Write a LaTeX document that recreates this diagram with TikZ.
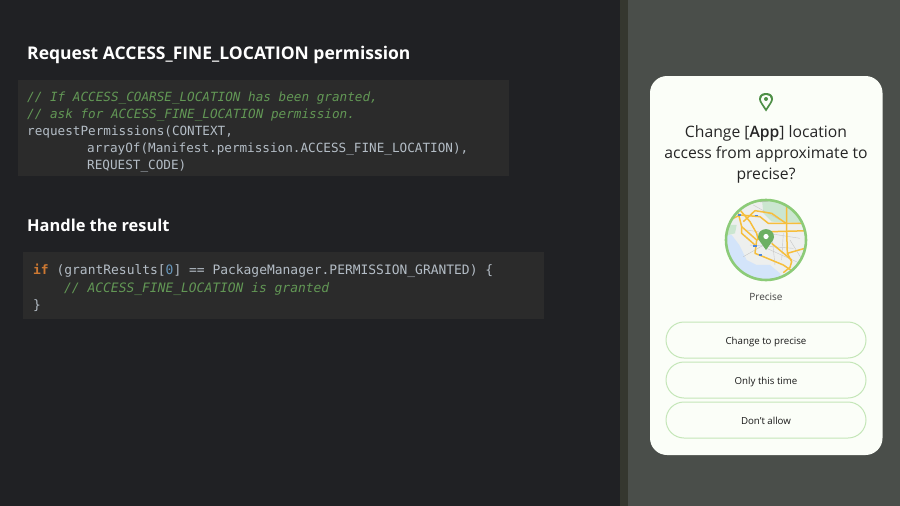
\documentclass[tikz,border=0pt]{standalone}
\usepackage{fontspec}
\setmainfont{Open Sans}
\setmonofont{DejaVu Sans Mono}
\usetikzlibrary{positioning}

\definecolor{slatebg}{HTML}{202124}
\definecolor{stripbg}{HTML}{35372F}
\definecolor{panelbg}{HTML}{4A4E4A}
\definecolor{codebg}{HTML}{2B2B2B}
\definecolor{codefg}{HTML}{B4BDC6}
\definecolor{cmtgreen}{HTML}{629755}
\definecolor{kwdorange}{HTML}{CC7832}
\definecolor{numblue}{HTML}{6897BB}
\definecolor{cardbg}{HTML}{FBFEF8}
\definecolor{btnline}{HTML}{C4E6B8}
\definecolor{pingreen}{HTML}{4E8F47}
\definecolor{mappin}{HTML}{6DB063}
\definecolor{ringgreen}{HTML}{8CCB78}
\definecolor{roadyellow}{HTML}{F6BE3C}
\definecolor{mapland}{HTML}{EDEFEE}
\definecolor{mapgreen}{HTML}{CBE6D0}
\definecolor{mapwater}{HTML}{D3E4FA}
\definecolor{mapblue}{HTML}{4F86D8}

\tikzset{
  heading/.style={anchor=base west,text=white,inner sep=0pt},
  codeline/.style={anchor=base west,text=codefg,inner sep=0pt},
  dialogline/.style={anchor=base,text=black!85,font=\fontsize{15.7}{18}\selectfont,inner sep=0pt},
  choice/.style={draw=btnline,line width=1pt,rounded corners=18pt,fill=cardbg,minimum width=200pt,minimum height=36pt,
    text=black!90,font=\fontsize{9.7}{11}\selectfont,inner sep=0pt,text height=9.5pt,text depth=1.5pt},
  road/.style={roadyellow,line width=1.5pt,line join=round},
  street/.style={black!22,line width=.4pt},
  shield/.style={mapblue,line width=1.6pt}
}
\newcommand{\cmt}[1]{\textcolor{cmtgreen}{\itshape #1}}

\begin{document}
\begin{tikzpicture}[x=1pt,y=-1pt]
  \useasboundingbox (0,0) rectangle (900,506);
  \fill[slatebg] (0,0) rectangle (620,506);
  \fill[stripbg] (620,0) rectangle (628,506);
  \fill[panelbg] (628,0) rectangle (900,506);

  % first block
  \node[heading,font=\fontsize{17.5}{20}\selectfont\bfseries] (title1) at (27,59) {Request ACCESS\_FINE\_LOCATION permission};
  \fill[codebg] (18,80) rectangle (509,176);
  \begin{scope}[every node/.style={codeline,font=\ttfamily\fontsize{12.66}{14}\selectfont}]
    \node (c1) at (27,101) {\cmt{// If ACCESS\_COARSE\_LOCATION has been granted,}};
    \node (c2) at (27,118) {\cmt{// ask for ACCESS\_FINE\_LOCATION permission.}};
    \node (c3) at (27,135) {requestPermissions(CONTEXT,};
    \node (c4) at (87,152) {arrayOf(Manifest.permission.ACCESS\_FINE\_LOCATION),};
    \node (c5) at (87,169) {REQUEST\_CODE)};
  \end{scope}

  % second block
  \node[heading,font=\fontsize{16.4}{20}\selectfont\bfseries] (title2) at (27,231) {Handle the result};
  \fill[codebg] (23,252) rectangle (544,319);
  \begin{scope}[every node/.style={codeline,font=\ttfamily\fontsize{12.95}{15}\selectfont}]
    \node (r1) at (33,274) {\textcolor{kwdorange}{\bfseries if} (grantResults[\textcolor{numblue}{0}] == PackageManager.PERMISSION\_GRANTED) \{};
    \node (r2) at (64,292) {\cmt{// ACCESS\_FINE\_LOCATION is granted}};
    \node (r3) at (33,309) {\}};
  \end{scope}

  % dialog card
  \fill[cardbg] (650,76) [rounded corners=17pt] rectangle (882.5,455);
  \begin{scope}[shift={(0,1.5)}]
    \fill[pingreen,even odd rule] (766,110) .. controls (762,104) and (759,100) .. (759,97.5)
      .. controls (759,93.5) and (762,91.5) .. (766,91.5)
      .. controls (770,91.5) and (773,93.5) .. (773,97.5)
      .. controls (773,100) and (770,104) .. (766,110) -- cycle
      (766,93.3) .. controls (763,93.3) and (760.8,95) .. (760.8,97.5)
      .. controls (760.8,100) and (763.5,103) .. (766,107)
      .. controls (768.5,103) and (771.2,100) .. (771.2,97.5)
      .. controls (771.2,95) and (769,93.3) .. (766,93.3) -- cycle;
    \fill[pingreen] (766,97.5) circle (2pt);
  \end{scope}

  \node[dialogline] (q1) at (766,137) {Change [{\fontspec{Open Sans Semibold}App}] location};
  \node[dialogline] (q2) at (766,158) {access from approximate to};
  \node[dialogline] (q3) at (766,179) {precise?};

  % map, in units of a third of a pixel
  \begin{scope}
    \path[clip] (766,240) circle (40pt);
    \begin{scope}[shift={(700,190)},x=.3333pt,y=-.3333pt]
      \fill[mapland] (60,15) rectangle (335,285);
      \fill[mapgreen] (185,20) -- (335,20) -- (335,100) -- (215,95) -- (190,70) -- cycle;
      \fill[mapgreen] (60,105) -- (110,105) -- (105,130) -- (85,135) -- (60,132) -- cycle;
      \fill[mapwater] (60,135) -- (95,135) -- (118,165) -- (140,210) -- (170,225) -- (210,225) -- (240,250) -- (250,290) -- (60,290) -- cycle;
      \foreach \a/\b/\c/\d in {140/120/300/145,150/165/280/175,215/130/225/225,250/130/245/210,130/200/200/160,270/150/310/215,160/45/240/90,200/175/300/220} {
        \draw[street] (\a,\b) -- (\c,\d);
      }
      \draw[road] (115,70) -- (125,110) -- (170,150) -- (165,190) -- (190,200) -- (250,225) -- (275,242);
      \draw[road] (90,90) -- (120,75) -- (180,80) -- (205,100) -- (330,100);
      \draw[road] (120,60) -- (150,95) -- (170,130) -- (175,150);
      \draw[road] (260,50) -- (260,120) -- (262,190) -- (275,215) -- (270,232) -- (250,248);
      \draw[road] (170,150) -- (215,125) -- (330,122);
      \draw[road] (215,160) -- (275,210);
      \draw[road] (262,190) -- (325,172);
      \draw[road] (130,95) -- (165,62) -- (215,70) -- (258,100);
      \draw[road] (125,110) -- (125,130) -- (165,165);
      \foreach \a/\b in {118/75,170/77,165/168,181/195} {
        \draw[shield] (\a-5,\b) -- (\a+5,\b);
      }
      \draw[black!25,line width=1.2pt] (180,35) -- (205,33);
    \end{scope}
  \end{scope}
  \draw[ringgreen,line width=2.6pt] (766,240) circle (40pt);
  \fill[mappin] (766,250) .. controls (762,244) and (758,240) .. (758,237)
    .. controls (758,226.5) and (774,226.5) .. (774,237)
    .. controls (774,240) and (770,244) .. (766,250) -- cycle;
  \fill[white] (766,236.5) circle (2.6pt);
  \node[text=black!75,font=\fontsize{10}{11}\selectfont,inner sep=0pt] (lblprecise) at (766,296.5) {Precise};

  % buttons
  \node[choice] (btn1) at (766,340) {Change to precise};
  \node[choice,below=3pt of btn1] (btn2) {Only this time};
  \node[choice,below=3pt of btn2] (btn3) {Don't allow};
\end{tikzpicture}
\end{document}
